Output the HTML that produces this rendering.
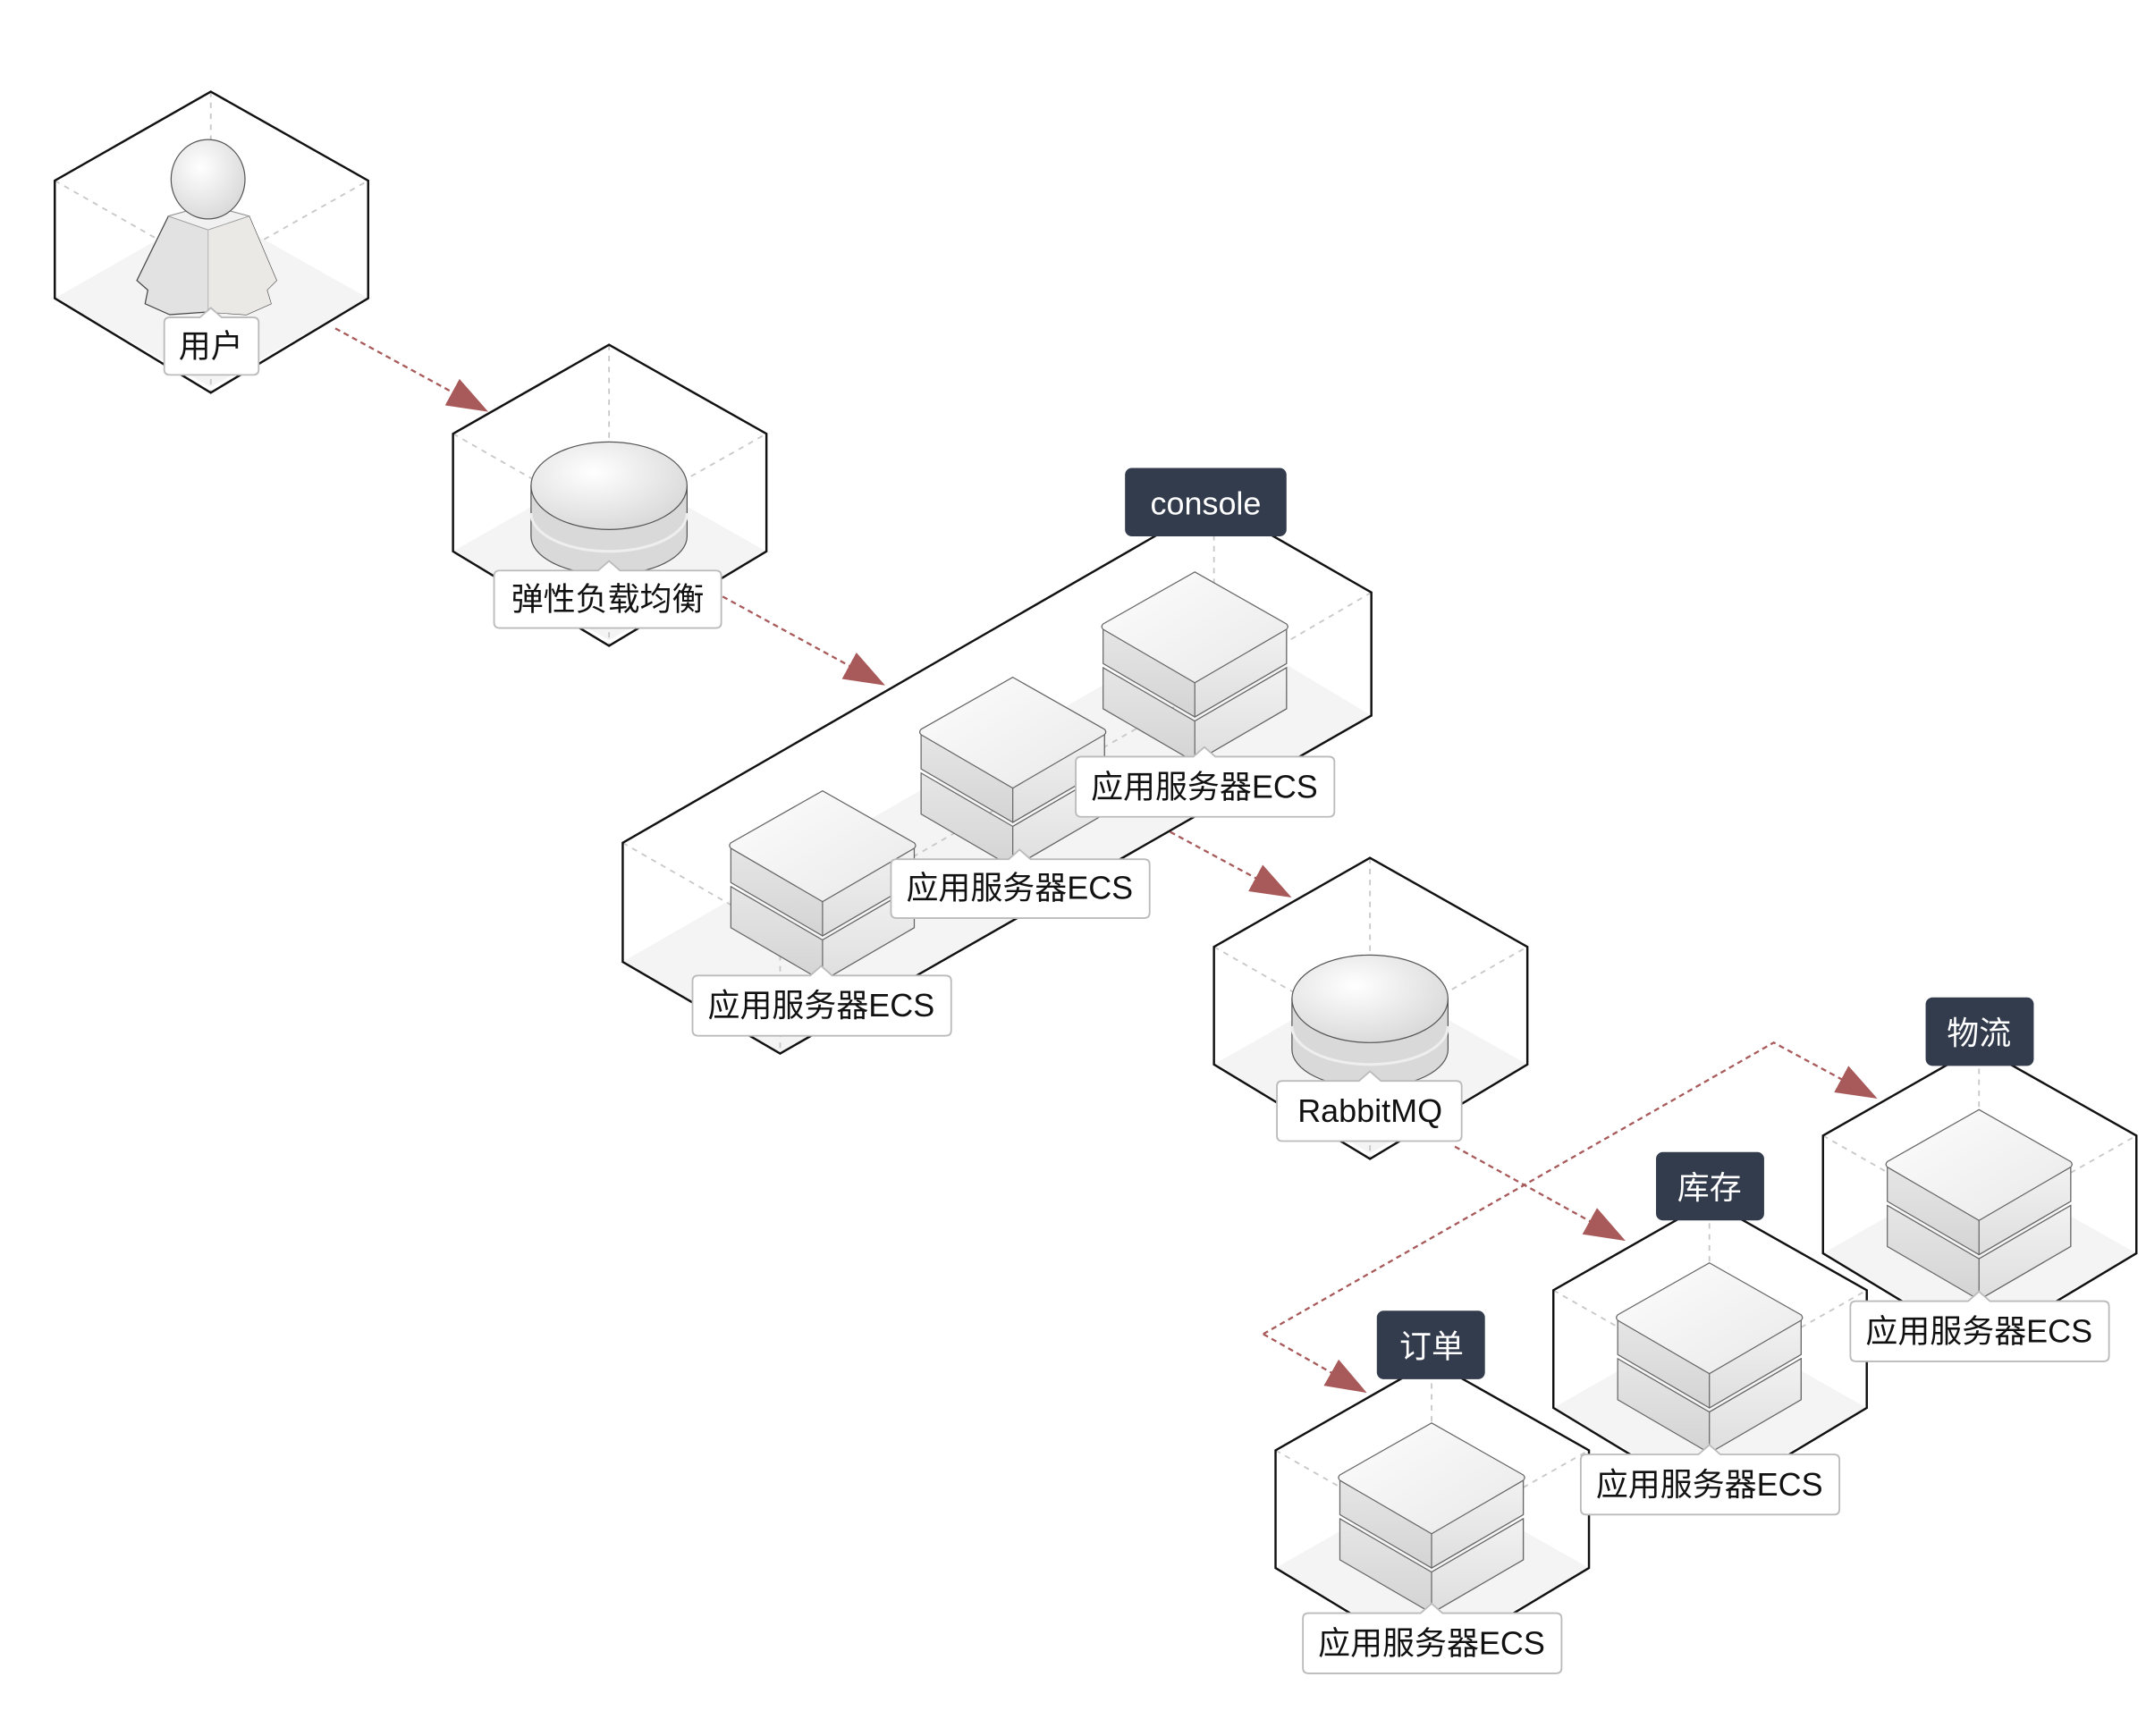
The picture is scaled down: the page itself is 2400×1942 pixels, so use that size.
<!DOCTYPE html>
<html><head><meta charset="utf-8">
<style>
html,body{margin:0;padding:0;background:#fff;}
svg{display:block;}
text{font-family:"Liberation Sans","Noto Sans CJK SC",sans-serif;}
</style></head>
<body>
<svg width="2400" height="1942" viewBox="0 0 1568 1268.8" xmlns="http://www.w3.org/2000/svg">
<defs>
<marker id="ah" viewBox="0 0 30 22" refX="28" refY="11" markerWidth="30" markerHeight="22" markerUnits="userSpaceOnUse" orient="auto">
<path d="M0,0 L30,11 L0,22 Z" fill="#a85a5a"/>
</marker>
<linearGradient id="gt" x1="0" y1="0" x2="1" y2="1"><stop offset="0" stop-color="#fdfdfd"/><stop offset="1" stop-color="#e9e9e9"/></linearGradient>
<linearGradient id="gl" x1="0" y1="0" x2="0" y2="1"><stop offset="0" stop-color="#e6e6e6"/><stop offset="1" stop-color="#d4d4d4"/></linearGradient>
<linearGradient id="gr" x1="0" y1="0" x2="0" y2="1"><stop offset="0" stop-color="#f2f2f2"/><stop offset="1" stop-color="#dedede"/></linearGradient>
<radialGradient id="gh" cx="0.4" cy="0.35" r="0.7"><stop offset="0" stop-color="#ffffff"/><stop offset="1" stop-color="#d8d8d8"/></radialGradient>
</defs>

<g stroke-linejoin="miter">
<g transform="translate(154,177)">
 <polygon points="-114,41 0,-24 115,41 0,106" fill="#f4f4f4"/>
 <g stroke="#c8c8c8" stroke-width="1.2" stroke-dasharray="4,4" fill="none"><path d="M0,-110 V20 M-114,-45 L0,20 L115,-45 M0,20 V110"/></g>
 <polygon points="0,-110 115,-45 115,41 0,110 -114,41 -114,-45" fill="none" stroke="#111" stroke-width="1.6"/>
</g>
<g transform="translate(445,362)">
 <polygon points="-114,41 0,-24 115,41 0,106" fill="#f4f4f4"/>
 <g stroke="#c8c8c8" stroke-width="1.2" stroke-dasharray="4,4" fill="none"><path d="M0,-110 V20 M-114,-45 L0,20 L115,-45 M0,20 V110"/></g>
 <polygon points="0,-110 115,-45 115,41 0,110 -114,41 -114,-45" fill="none" stroke="#111" stroke-width="1.6"/>
</g>
<g transform="translate(1001,737)">
 <polygon points="-114,41 0,-24 115,41 0,106" fill="#f4f4f4"/>
 <g stroke="#c8c8c8" stroke-width="1.2" stroke-dasharray="4,4" fill="none"><path d="M0,-110 V20 M-114,-45 L0,20 L115,-45 M0,20 V110"/></g>
 <polygon points="0,-110 115,-45 115,41 0,110 -114,41 -114,-45" fill="none" stroke="#111" stroke-width="1.6"/>
</g>
<g transform="translate(1046,1105)">
 <polygon points="-114,41 0,-24 115,41 0,106" fill="#f4f4f4"/>
 <g stroke="#c8c8c8" stroke-width="1.2" stroke-dasharray="4,4" fill="none"><path d="M0,-110 V20 M-114,-45 L0,20 L115,-45 M0,20 V110"/></g>
 <polygon points="0,-110 115,-45 115,41 0,110 -114,41 -114,-45" fill="none" stroke="#111" stroke-width="1.6"/>
</g>
<g transform="translate(1249,988)">
 <polygon points="-114,41 0,-24 115,41 0,106" fill="#f4f4f4"/>
 <g stroke="#c8c8c8" stroke-width="1.2" stroke-dasharray="4,4" fill="none"><path d="M0,-110 V20 M-114,-45 L0,20 L115,-45 M0,20 V110"/></g>
 <polygon points="0,-110 115,-45 115,41 0,110 -114,41 -114,-45" fill="none" stroke="#111" stroke-width="1.6"/>
</g>
<g transform="translate(1446,875)">
 <polygon points="-114,41 0,-24 115,41 0,106" fill="#f4f4f4"/>
 <g stroke="#c8c8c8" stroke-width="1.2" stroke-dasharray="4,4" fill="none"><path d="M0,-110 V20 M-114,-45 L0,20 L115,-45 M0,20 V110"/></g>
 <polygon points="0,-110 115,-45 115,41 0,110 -114,41 -114,-45" fill="none" stroke="#111" stroke-width="1.6"/>
</g>
<g>
 <polygon points="455,703 887,454 1002,523 570,770" fill="#f4f4f4"/>
 <g stroke="#c8c8c8" stroke-width="1.2" stroke-dasharray="4,4" fill="none"><path d="M887,367 V480 M1002,433 L887,500 M455,616 L570,682 M570,682 V770 M570,682 L887,500"/></g>
 <polygon points="455,616 887,367 1002,433 1002,523 570,770 455,703" fill="none" stroke="#111" stroke-width="1.6"/>
</g>
</g>

<g>
 <path d="M123,158 L152,150 L182,158 L202,205 L195,212 L198,222 L180,230 L152,228 L124,230 L106,222 L108,212 L100,205 Z" fill="#e2e2e2" stroke="#444" stroke-width="0.8"/>
 <path d="M152,168 L182,158 L202,205 L195,212 L198,222 L180,230 L152,228 Z" fill="#ebe9e6"/>
 <path d="M123,158 L152,168 L182,158 L152,150 Z" fill="#f1f1f1" stroke="#999" stroke-width="0.6"/>
 <line x1="152" y1="168" x2="152" y2="228" stroke="#bbb" stroke-width="0.8"/>
 <ellipse cx="152" cy="131" rx="27" ry="29" fill="url(#gh)" stroke="#555" stroke-width="0.8"/>
</g>

<g>
 <path d="M388,355 V392 A57,28 0 0 0 502,392 V355 Z" fill="#d9d9d9" stroke="#555" stroke-width="0.8"/>
 <path d="M388,375 A57,28 0 0 0 502,375" fill="none" stroke="#eee" stroke-width="2"/>
 <ellipse cx="445" cy="355" rx="57" ry="32" fill="url(#gh)" stroke="#555" stroke-width="0.8"/>
</g>
<g>
 <path d="M944,730 V767 A57,28 0 0 0 1058,767 V730 Z" fill="#d9d9d9" stroke="#555" stroke-width="0.8"/>
 <path d="M944,750 A57,28 0 0 0 1058,750" fill="none" stroke="#eee" stroke-width="2"/>
 <ellipse cx="1001" cy="730" rx="57" ry="32" fill="url(#gh)" stroke="#555" stroke-width="0.8"/>
</g>

<defs>
<g id="srv">
 <path d="M-67,70 L0,109 L67,70 L67,100 L0,139 L-67,100 Z" fill="url(#gl)" stroke="#666" stroke-width="0.8"/>
 <path d="M0,109 L67,70 L67,100 L0,139 Z" fill="url(#gr)" stroke="#666" stroke-width="0.8"/>
 <path d="M-67,40 L0,79 L67,40 L67,67 L0,106 L-67,67 Z" fill="url(#gl)" stroke="#666" stroke-width="0.8"/>
 <path d="M0,79 L67,40 L67,67 L0,106 Z" fill="url(#gr)" stroke="#666" stroke-width="0.8"/>
 <path d="M0,0 L67,38 Q69,40 67,42 L0,81 L-67,42 Q-69,40 -67,38 Z" fill="url(#gt)" stroke="#666" stroke-width="0.8"/>
</g>
</defs>
<use href="#srv" x="873" y="418"/>
<use href="#srv" x="740" y="495"/>
<use href="#srv" x="601" y="578"/>
<use href="#srv" x="1046" y="1040"/>
<use href="#srv" x="1249" y="923"/>
<use href="#srv" x="1446" y="811"/>

<g stroke="#a85a5a" stroke-width="1.5" stroke-dasharray="4,3" fill="none">
 <line x1="245" y1="240" x2="355" y2="300" marker-end="url(#ah)"/>
 <line x1="528" y1="436" x2="645" y2="500" marker-end="url(#ah)"/>
 <line x1="855" y1="608" x2="942" y2="655" marker-end="url(#ah)"/>
 <line x1="1063" y1="838" x2="1186" y2="906" marker-end="url(#ah)"/>
 <polyline points="923,975 1296,762 1370,802" marker-end="url(#ah)"/>
 <line x1="923" y1="975" x2="997" y2="1017" marker-end="url(#ah)"/>
</g>

<g font-size="23.5" fill="#111" text-anchor="middle">
 <g>
  <path d="M124,232 H146 L154,225 L162,232 H185 Q189,232 189,236 V270 Q189,274 185,274 H124 Q120,274 120,270 V236 Q120,232 124,232 Z" fill="#fff" stroke="#bbb" stroke-width="1.2"/>
  <text x="154" y="261">用户</text>
 </g>
 <g>
  <path d="M365,417 H437 L445,410 L453,417 H523 Q527,417 527,421 V455 Q527,459 523,459 H365 Q361,459 361,455 V421 Q361,417 365,417 Z" fill="#fff" stroke="#bbb" stroke-width="1.2"/>
  <text x="444" y="446">弹性负载均衡</text>
 </g>
 <g>
  <path d="M790,553 H872 L880,546 L888,553 H971 Q975,553 975,557 V593 Q975,597 971,597 H790 Q786,597 786,593 V557 Q786,553 790,553 Z" fill="#fff" stroke="#bbb" stroke-width="1.2"/>
  <text x="880" y="583">应用服务器ECS</text>
 </g>
 <g>
  <path d="M655,628 H737 L745,621 L753,628 H836 Q840,628 840,632 V667 Q840,671 836,671 H655 Q651,671 651,667 V632 Q651,628 655,628 Z" fill="#fff" stroke="#bbb" stroke-width="1.2"/>
  <text x="745" y="657">应用服务器ECS</text>
 </g>
 <g>
  <path d="M510,713 H592 L600,706 L608,713 H691 Q695,713 695,717 V753 Q695,757 691,757 H510 Q506,757 506,753 V717 Q506,713 510,713 Z" fill="#fff" stroke="#bbb" stroke-width="1.2"/>
  <text x="600" y="743">应用服务器ECS</text>
 </g>
 <g>
  <path d="M937,790 H993 L1001,783 L1009,790 H1064 Q1068,790 1068,794 V830 Q1068,834 1064,834 H937 Q933,834 933,830 V794 Q933,790 937,790 Z" fill="#fff" stroke="#bbb" stroke-width="1.2"/>
  <text x="1001" y="820">RabbitMQ</text>
 </g>
 <g>
  <path d="M1159,1063 H1241 L1249,1056 L1257,1063 H1340 Q1344,1063 1344,1067 V1103 Q1344,1107 1340,1107 H1159 Q1155,1107 1155,1103 V1067 Q1155,1063 1159,1063 Z" fill="#fff" stroke="#bbb" stroke-width="1.2"/>
  <text x="1249" y="1093">应用服务器ECS</text>
 </g>
 <g>
  <path d="M1356,951 H1438 L1446,944 L1454,951 H1537 Q1541,951 1541,955 V991 Q1541,995 1537,995 H1356 Q1352,995 1352,991 V955 Q1352,951 1356,951 Z" fill="#fff" stroke="#bbb" stroke-width="1.2"/>
  <text x="1446" y="981">应用服务器ECS</text>
 </g>
 <g>
  <path d="M956,1179 H1038 L1046,1172 L1054,1179 H1137 Q1141,1179 1141,1183 V1219 Q1141,1223 1137,1223 H956 Q952,1223 952,1219 V1183 Q952,1179 956,1179 Z" fill="#fff" stroke="#bbb" stroke-width="1.2"/>
  <text x="1046" y="1209">应用服务器ECS</text>
 </g>
</g>

<g font-size="23.5" fill="#fff" text-anchor="middle">
 <rect x="822" y="342" width="118" height="50" rx="5" fill="#333c4d"/>
 <text x="881" y="376">console</text>
 <rect x="1407" y="729" width="79" height="50" rx="5" fill="#333c4d"/>
 <text x="1446" y="763">物流</text>
 <rect x="1210" y="842" width="79" height="50" rx="5" fill="#333c4d"/>
 <text x="1249" y="876">库存</text>
 <rect x="1006" y="958" width="79" height="50" rx="5" fill="#333c4d"/>
 <text x="1046" y="992">订单</text>
</g>
</svg>
</body></html>
